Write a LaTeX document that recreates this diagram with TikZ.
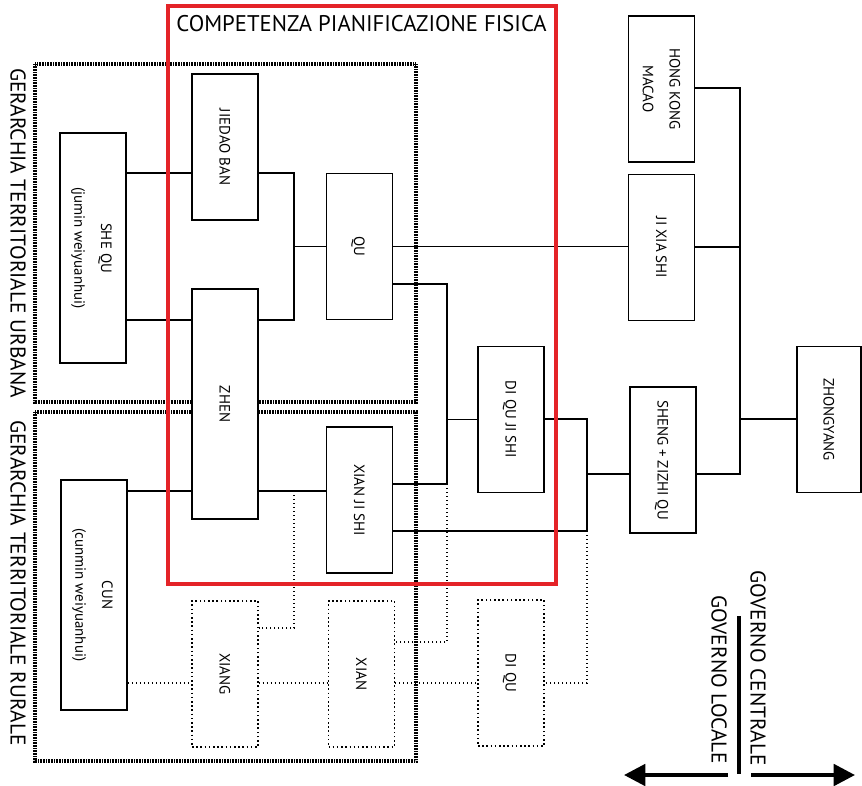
\documentclass[tikz,border=0pt]{standalone}
\usepackage{fontspec}
\setmainfont{PT Sans}
\usetikzlibrary{arrows.meta,backgrounds}
\definecolor{rosso}{RGB}{228,35,40}
\newcommand{\vtesto}[1]{\rotatebox{-90}{\begin{tabular}{@{}c@{}}#1\end{tabular}}}

\begin{document}
\begin{tikzpicture}[x=0.75pt,y=-0.75pt,
  ente/.style={draw, fill=white, line width=1.15pt, minimum width=49.5pt, minimum height=109.5pt, inner sep=0pt, font=\fontsize{11.2}{20}\selectfont},
  ente lungo/.style={ente, minimum height=172.5pt},
  ente rurale/.style={ente, dotted, line width=0.9pt},
  legame/.style={line width=1pt},
  legame rurale/.style={legame, dotted},
  ambito/.style={line width=2.6pt, dash pattern=on 0.6pt off 0.6pt},
  competenza/.style={draw=rosso, line width=2.6pt},
  etichetta/.style={inner sep=0pt, font=\fontsize{16}{19}\selectfont},
  freccia/.style={line width=3pt, -{Triangle[length=16pt,width=16pt]}}]
\useasboundingbox (0,0) rectangle (862,785);

\node[ente lungo] (shequ) at (93,248) {\vtesto{SHE QU\\(jumin weiyuanhui)}};
\node[ente] (jiedao) at (225,147) {\vtesto{JIEDAO BAN}};
\node[ente lungo] (zhen) at (225,404) {\vtesto{ZHEN}};
\node[ente] (qu) at (359.5,246.5) {\vtesto{QU}};
\node[ente] (xianjishi) at (359.5,500) {\vtesto{XIAN JI SHI}};
\node[ente lungo] (cun) at (94,595) {\vtesto{CUN\\(cunmin weiyuanhui)}};
\node[ente rurale] (xiang) at (225,674) {\vtesto{XIANG}};
\node[ente rurale] (xian) at (361.5,674) {\vtesto{XIAN}};
\node[ente rurale] (diqu) at (511,673) {\vtesto{DI QU}};
\node[ente] (diqujishi) at (511,419.5) {\vtesto{DI QU JI SHI}};
\node[ente] (hkmacao) at (661.5,89) {\vtesto{HONG KONG\\MACAO}};
\node[ente] (jixiashi) at (661.5,247.5) {\vtesto{JI XIA SHI}};
\node[ente] (sheng) at (663,460) {\vtesto{SHENG + ZIZHI QU}};
\node[ente, minimum width=48pt] (zhongyang) at (829,419.5) {\vtesto{ZHONGYANG}};

\begin{pgfonlayer}{background}
\draw[legame] (shequ.east |- 0,173) -- (jiedao.west |- 0,173);
\draw[legame] (shequ.east |- 0,320) -- (zhen.west |- 0,320);
\draw[legame] (jiedao.east |- 0,173) -| (294,247) |- (zhen.east |- 0,320);
\draw[legame] (294,0 |- qu.west) -- (qu.west);
\draw[legame] (qu.east) -- (qu.east -| jixiashi.west);
\draw[legame] (qu.east |- 0,284) -| (447,484) -- (xianjishi.east |- 0,484);
\draw[legame] (447,0 |- diqujishi.west) -- (diqujishi.west);
\draw[legame] (xianjishi.east |- 0,531) -| (587,419) -- (diqujishi.east |- 0,419);
\draw[legame] (587,474) -- (sheng.west |- 0,474);
\draw[legame] (cun.east |- 0,491) -- (zhen.west |- 0,491);
\draw[legame] (zhen.east |- 0,491) -- (xianjishi.west |- 0,491);
\draw[legame] (hkmacao.east |- 0,88) -| (740,474) -- (sheng.east |- 0,474);
\draw[legame] (jixiashi.east |- 0,247) -- (740,247);
\draw[legame] (740,419) -- (zhongyang.west |- 0,419);

\draw[legame rurale] (294,491) |- (xiang.east |- 0,628);
\draw[legame rurale] (cun.east |- 0,683) -- (xiang.west |- 0,683);
\draw[legame rurale] (xiang.east |- 0,683) -- (xian.west |- 0,683);
\draw[legame rurale] (xian.east |- 0,683) -- (diqu.west |- 0,683);
\draw[legame rurale] (447,484) |- (xian.east |- 0,642);
\draw[legame rurale] (587,531) |- (diqu.east |- 0,683);

\draw[ambito] (35,64) rectangle (416,402);
\draw[ambito] (35,412) rectangle (416,761);
\draw[competenza] (168,6) rectangle (556,584);
\end{pgfonlayer}

\node[etichetta, font=\fontsize{17}{20}\selectfont] (titolo) at (361.5,24) {COMPETENZA PIANIFICAZIONE FISICA};
\node[etichetta, rotate=-90] (urbana) at (18,233) {GERARCHIA TERRITORIALE URBANA};
\node[etichetta, rotate=-90] (rurale) at (18,583) {GERARCHIA TERRITORIALE RURALE};
\node[etichetta, rotate=-90] (centrale) at (758,668) {GOVERNO CENTRALE};
\node[etichetta, rotate=-90] (locale) at (719,680) {GOVERNO LOCALE};

\coordinate (asse alto) at (739,616);
\coordinate (asse basso) at (739,774);
\coordinate (sx inizio) at (728,775);
\coordinate (sx punta) at (624,775);
\coordinate (dx inizio) at (751,775);
\coordinate (dx punta) at (855,775);
\draw[line width=3pt] (asse alto) -- (asse basso);
\draw[freccia] (sx inizio) -- (sx punta);
\draw[freccia] (dx inizio) -- (dx punta);
\end{tikzpicture}
\end{document}
